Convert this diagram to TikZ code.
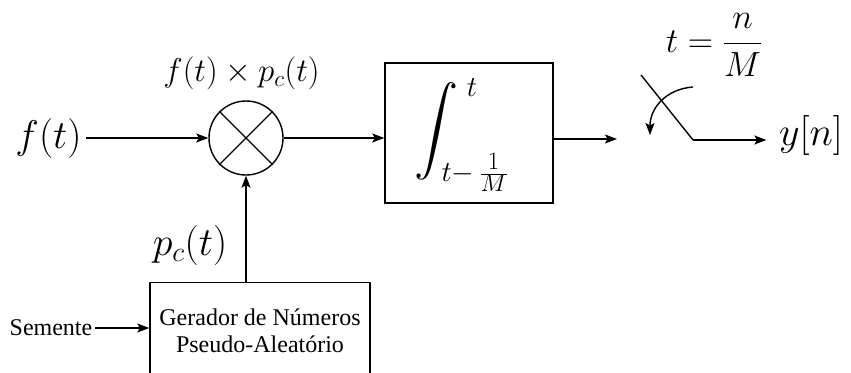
\RequirePackage{fix-cm}
\documentclass[tikz,border=0pt]{standalone}
\usepackage{graphicx}
\usepackage[no-math]{fontspec}
\newfontfamily\timesf{Liberation Serif}
\usetikzlibrary{arrows.meta,calc}
\newcommand{\limsz}[1]{\mbox{\fontsize{25}{25}\selectfont$#1$}}
\begin{document}
\begin{tikzpicture}[x=1pt,y=-1pt,
  line width=1.4pt,
  arr/.style={-{Stealth[length=12pt,width=9pt,inset=2.5pt]}},
  mathlbl/.style={inner sep=0pt,font=\fontsize{40}{48}\selectfont},
  smalllbl/.style={inner sep=0pt,font=\fontsize{33}{40}\selectfont},
  tlbl/.style={inner sep=0pt,font=\timesf\fontsize{24}{27}\selectfont,align=center},
  blk/.style={draw,rectangle,inner sep=0pt}]
\useasboundingbox (0,0) rectangle (851,372);
\clip (0,0) rectangle (851,372);
% nodes
\node[mathlbl,inner sep=4pt] (ft) at (48.5,138) {$f(t)$};
\node[draw,circle,minimum size=74pt,inner sep=0pt] (mult) at (246,138) {};
\node[smalllbl] (prod) at (241.5,73.5) {$f(t)\times p_c(t)$};
\node[blk,minimum width=168pt,minimum height=140pt] (intg) at (469,133) {};
\node[inner sep=0pt] (intsign) at (436,131) {\scalebox{4.4}{$\displaystyle\int$}};
\node[inner sep=0pt,font=\fontsize{29}{32}\selectfont] (upl) at (472,88) {$t$};
\node[inner sep=0pt,font=\fontsize{29}{32}\selectfont,anchor=base west] (lowl) at (441,181) {$t{-}\,\frac{\limsz{1}}{\limsz{M}}$};
\node[mathlbl] (pc) at (190,245) {$p_c(t)$};
\node[blk,minimum width=220pt,minimum height=100pt,anchor=north] (gen) at (260,282) {};
\node[tlbl] (gentext) at (260,331) {Gerador de Números\\Pseudo-Aleatório};
\node[tlbl,anchor=east,inner sep=2pt] (sem) at (95,328) {Semente};
\node[mathlbl] (yn) at (811,135) {$y[n]$};
\node[inner sep=0pt,font=\fontsize{35}{40}\selectfont] (tnm) at (714,45) {$t=\displaystyle\frac{n}{M}$};
\coordinate (out) at (617,139);
\coordinate (swA) at (641,75);
\coordinate (swB) at (693,140);
\coordinate (arcS) at (693,87);
\coordinate (arcE) at (650,135);
% cross
\draw (mult.north west) -- (mult.south east);
\draw (mult.north east) -- (mult.south west);
% connectors
\draw[arr] (ft.east) -- (mult.west);
\draw[arr] (mult.east) -- (mult.east -| intg.west);
\draw[arr] (intg.east |- out) -- (out);
\draw[arr] (gen.north -| mult.south) -- (mult.south);
\draw[arr] (sem.east) -- (sem.east -| gen.west);
\draw (swA) -- (swB);
\draw[arr,shorten >=12pt] (swB) -- (swB -| yn.west);
\draw[arr] (arcS) .. controls (666,89) and (650,108) .. (arcE);
\end{tikzpicture}
\end{document}
